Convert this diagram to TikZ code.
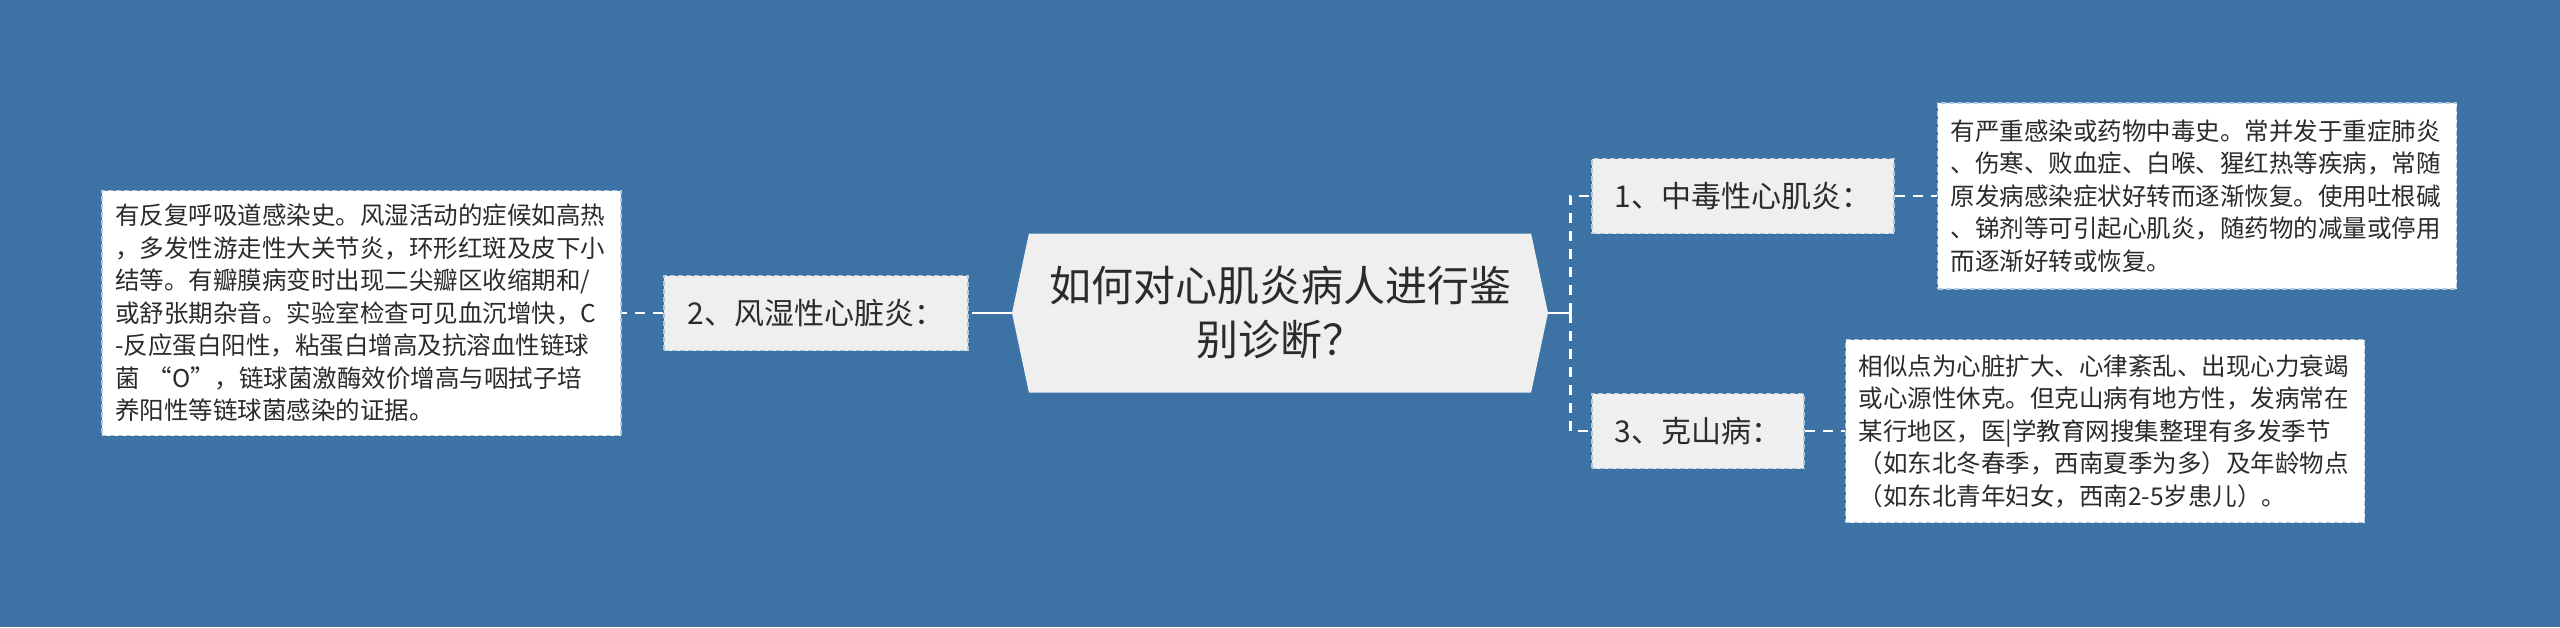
\documentclass[tikz,border=0pt]{standalone}
\usepackage{fontspec}
\setmainfont{Noto Sans CJK SC}
\usepackage{tikz}
\usetikzlibrary{
    calc,
    shapes.symbols
}
\definecolor{bgblue}{HTML}{3D72A4}
\definecolor{boxgray}{HTML}{EFEFEF}
\definecolor{boxline}{HTML}{B4C8DC}
\definecolor{inkgray}{HTML}{2B2B2B}
\tikzset{
    root/.style={shape=signal, signal to=west and east, signal pointer angle=156,
        fill=boxgray, text=inkgray, font=\fontsize{42}{54}\selectfont, align=center,
        minimum width=536pt, minimum height=159pt, inner sep=0pt},
    topic/.style={fill=boxgray, draw=boxline, dash pattern=on 5pt off 3pt, line width=1.5pt,
        text=inkgray, font=\fontsize{30}{36}\selectfont, minimum height=75pt, inner sep=0pt},
    detail/.style={fill=white, draw=boxline, dash pattern=on 5pt off 3pt, line width=1.5pt,
        text=inkgray, font=\fontsize{24.5}{32.5}\selectfont, align=left,
        text width=493pt, inner xsep=13pt, inner ysep=0pt},
    link/.style={draw=white, line width=2.8pt},
    dlink/.style={link, dash pattern=on 10pt off 8pt}
}

\begin{document}
\begin{tikzpicture}[x=1pt, y=-1pt]
    \fill[bgblue] (0,0) rectangle (2560,627);
    \useasboundingbox (0,0) rectangle (2560,627);

    \draw (1280,313) node[root](hex){如何对心肌炎病人进行鉴\\别诊断？};
    \draw (816,313) node[topic, minimum width=304pt](rheum){2、风湿性心脏炎：};
    \draw (1743,196) node[topic, minimum width=302pt](toxic){1、中毒性心肌炎：};
    \draw (1698,431) node[topic, minimum width=212pt](keshan){3、克山病：};

    \draw (361.5,313) node[detail, minimum height=245pt](detl){%
        有反复呼吸道感染史。风湿活动的症候如高热\\
        ，多发性游走性大关节炎，环形红斑及皮下小\\
        结等。有瓣膜病变时出现二尖瓣区收缩期和/\\
        或舒张期杂音。实验室检查可见血沉增快，C\\
        -反应蛋白阳性，粘蛋白增高及抗溶血性链球\\
        菌 “O”，链球菌激酶效价增高与咽拭子培\\
        养阳性等链球菌感染的证据。};
    \draw (2197,196) node[detail, minimum height=186pt](dettr){%
        有严重感染或药物中毒史。常并发于重症肺炎\\
        、伤寒、败血症、白喉、猩红热等疾病，常随\\
        原发病感染症状好转而逐渐恢复。使用吐根碱\\
        、锑剂等可引起心肌炎，随药物的减量或停用\\
        而逐渐好转或恢复。};
    \draw (2105,431) node[detail, minimum height=183pt](detbr){%
        相似点为心脏扩大、心律紊乱、出现心力衰竭\\
        或心源性休克。但克山病有地方性，发病常在\\
        某行地区，医|学教育网搜集整理有多发季节\\
        （如东北冬春季，西南夏季为多）及年龄物点\\
        （如东北青年妇女，西南2-5岁患儿）。};

    \draw[link] (hex.west) -- ++(-30,0) coordinate(lj);
    \draw[dlink] (lj) -- (rheum.east);
    \draw[dlink] (rheum.west) -- (detl.east);
    \draw[link] (hex.east) -- ++(22,0) coordinate(rj);
    \draw[dlink] (rj) |- (toxic.west);
    \draw[dlink] (rj) |- (keshan.west);
    \draw[dlink] (toxic.east) -- (dettr.west);
    \draw[dlink] (keshan.east) -- (detbr.west);
\end{tikzpicture}
\end{document}
